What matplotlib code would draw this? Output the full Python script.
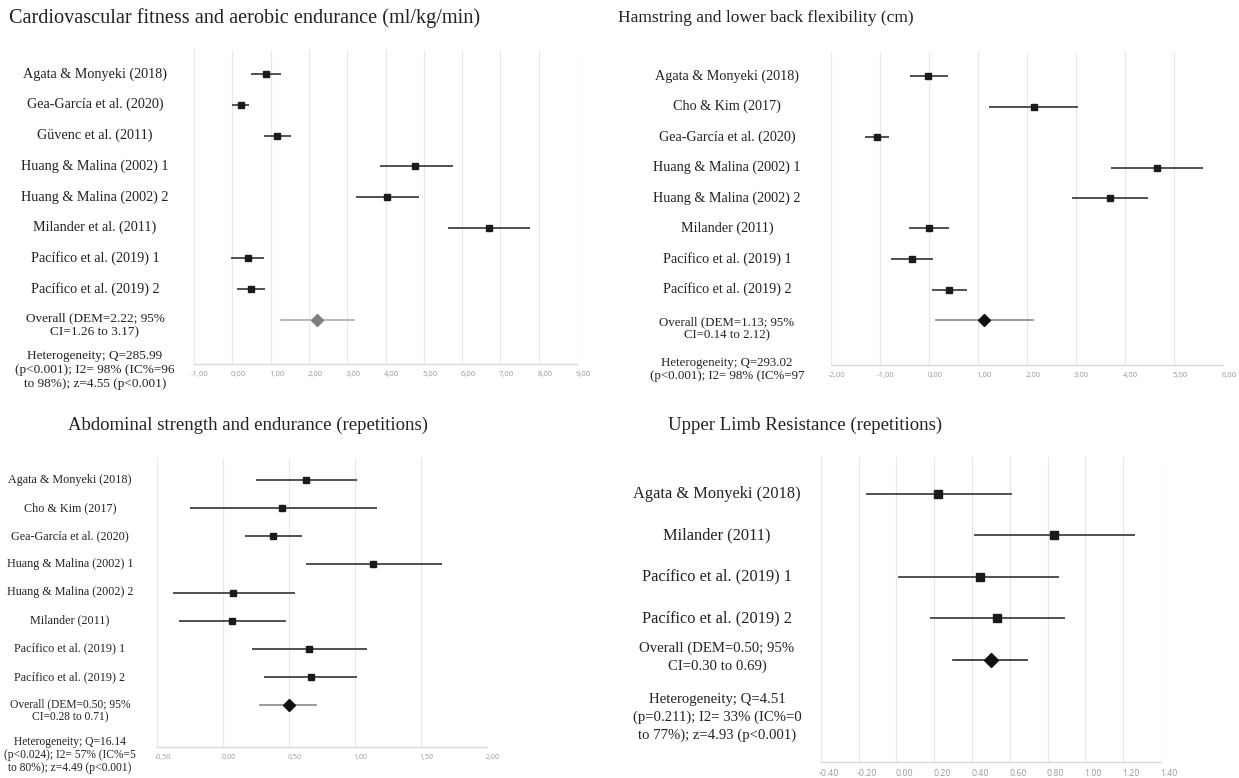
import matplotlib
matplotlib.use("Agg")
import matplotlib.pyplot as plt
from matplotlib.transforms import blended_transform_factory, ScaledTranslation

W, H = 1239, 778
fig = plt.figure(figsize=(W / 100, H / 100), dpi=100)

SERIF = ["Liberation Serif", "DejaVu Serif"]
TICKFONT = ["Open Sans", "DejaVu Sans"]

# ---------------- data ----------------
cardio_title = "Cardiovascular fitness and aerobic endurance (ml/kg/min)"
cardio_studies = ["Agata & Monyeki (2018)", "Gea-García et al. (2020)", "Güvenc et al. (2011)",
                  "Huang & Malina (2002) 1", "Huang & Malina (2002) 2", "Milander et al. (2011)",
                  "Pacífico et al. (2019) 1", "Pacífico et al. (2019) 2"]
cardio_est = [0.87, 0.22, 1.17, 4.78, 4.03, 6.69, 0.40, 0.48]
cardio_lo = [0.50, 0.00, 0.83, 3.85, 3.22, 5.63, -0.04, 0.13]
cardio_hi = [1.26, 0.44, 1.53, 5.76, 4.87, 7.77, 0.83, 0.86]
cardio_overall = [2.22, 1.26, 3.17]
cardio_overall_label = "Overall (DEM=2.22; 95%\nCI=1.26 to 3.17)"
cardio_het = "Heterogeneity; Q=285.99\n(p<0.001); I2= 98% (IC%=96\nto 98%); z=4.55 (p<0.001)"
cardio_ticks = [-1, 0, 1, 2, 3, 4, 5, 6, 7, 8, 9]
cardio_ticklabels = ["-1,00", "0,00", "1,00", "2,00", "3,00", "4,00", "5,00", "6,00", "7,00", "8,00", "9,00"]

flex_title = "Hamstring and lower back flexibility (cm)"
flex_studies = ["Agata & Monyeki (2018)", "Cho & Kim (2017)", "Gea-García et al. (2020)",
                "Huang & Malina (2002) 1", "Huang & Malina (2002) 2", "Milander (2011)",
                "Pacífico et al. (2019) 1", "Pacífico et al. (2019) 2"]
flex_est = [-0.01, 2.15, -1.05, 4.66, 3.69, 0.00, -0.35, 0.41]
flex_lo = [-0.39, 1.24, -1.29, 3.72, 2.92, -0.41, -0.77, 0.06]
flex_hi = [0.40, 3.05, -0.82, 5.59, 4.48, 0.42, 0.09, 0.79]
flex_overall = [1.13, 0.14, 2.12]
flex_overall_label = "Overall (DEM=1.13; 95%\nCI=0.14 to 2.12)"
flex_het = "Heterogeneity; Q=293.02\n(p<0.001); I2= 98% (IC%=97"
flex_ticks = [-2, -1, 0, 1, 2, 3, 4, 5, 6]
flex_ticklabels = ["-2,00", "-1,00", "0,00", "1,00", "2,00", "3,00", "4,00", "5,00", "6,00"]

abd_title = "Abdominal strength and endurance (repetitions)"
abd_studies = ["Agata & Monyeki (2018)", "Cho & Kim (2017)", "Gea-García et al. (2020)",
               "Huang & Malina (2002) 1", "Huang & Malina (2002) 2", "Milander (2011)",
               "Pacífico et al. (2019) 1", "Pacífico et al. (2019) 2"]
abd_est = [0.63, 0.45, 0.38, 1.14, 0.08, 0.07, 0.65, 0.67]
abd_lo = [0.25, -0.25, 0.17, 0.63, -0.375, -0.33, 0.22, 0.31]
abd_hi = [1.02, 1.17, 0.60, 1.66, 0.55, 0.48, 1.09, 1.02]
abd_overall = [0.50, 0.28, 0.71]
abd_overall_label = "Overall (DEM=0.50; 95%\nCI=0.28 to 0.71)"
abd_het = "Heterogeneity; Q=16.14\n(p<0.024); I2= 57% (IC%=5\nto 80%); z=4.49 (p<0.001)"
abd_ticks = [-0.5, 0.0, 0.5, 1.0, 1.5, 2.0]
abd_ticklabels = ["-0,50", "0,00", "0,50", "1,00", "1,50", "2,00"]

ul_title = "Upper Limb Resistance (repetitions)"
ul_studies = ["Agata & Monyeki (2018)", "Milander (2011)", "Pacífico et al. (2019) 1",
              "Pacífico et al. (2019) 2"]
ul_est = [0.22, 0.835, 0.44, 0.53]
ul_lo = [-0.16, 0.41, 0.01, 0.18]
ul_hi = [0.61, 1.26, 0.86, 0.89]
ul_overall = [0.50, 0.30, 0.69]
ul_overall_label = "Overall (DEM=0.50; 95%\nCI=0.30 to 0.69)"
ul_het = "Heterogeneity; Q=4.51\n(p=0.211); I2= 33% (IC%=0\nto 77%); z=4.93 (p<0.001)"
ul_ticks = [-0.4, -0.2, 0.0, 0.2, 0.4, 0.6, 0.8, 1.0, 1.2, 1.4]
ul_ticklabels = ["-0.40", "-0.20", "0.00", "0.20", "0.40", "0.60", "0.80", "1.00", "1.20", "1.40"]


def px_axes(left, top, right, bottom):
    return fig.add_axes([left / W, 1 - bottom / H, (right - left) / W, (bottom - top) / H])


def panel(box, row0, rowlast, studies, est, lo, hi, overall, overall_label, het, ticks, ticklabels,
          label_x, label_fs, small_fs, overall_y, het_y, lsp, sq_ms, dia_ms, dia_color, dia_line,
          tick_fs, tick_dx):
    left, top, right, bottom = box
    ax = px_axes(left, top, right, bottom)
    n = len(studies)
    spacing = (rowlast - row0) / n
    ymin = -(row0 - top) / spacing
    ymax = (bottom - row0) / spacing
    ax.set_ylim(ymax, ymin)
    ax.set_xlim(ticks[0], ticks[-1])
    ax.set_xticks(ticks)
    ax.set_xticklabels(ticklabels, fontsize=tick_fs, color="#9a9a9a", family=TICKFONT)
    ax.tick_params(axis="x", length=0, pad=5)
    ax.set_yticks([])
    for s in ["top", "left", "right"]:
        ax.spines[s].set_visible(False)
    ax.spines["bottom"].set_color("#d9d9d9")
    ax.spines["bottom"].set_linewidth(1.0)
    for t in ticks:
        ax.axvline(t, color="#e9e9e9", lw=0.9, zorder=0)
    for lab in ax.get_xticklabels():
        lab.set_transform(lab.get_transform() + ScaledTranslation(tick_dx / 100, 0, fig.dpi_scale_trans))
    rows = list(range(n))
    for r, e, l, h in zip(rows, est, lo, hi):
        ax.plot([l, h], [r, r], color="#3c3c3c", lw=1.25, solid_capstyle="butt", zorder=2)
    ax.plot(est, rows, linestyle="none", marker="s", markersize=sq_ms, color="#1a1a1a", zorder=3)
    ax.plot([overall[1], overall[2]], [n, n], color=dia_line, lw=1.25, zorder=2)
    ax.plot([overall[0]], [n], linestyle="none", marker="D", markersize=dia_ms, color=dia_color, zorder=3)

    tr = blended_transform_factory(fig.transFigure, ax.transData)
    for r, s in zip(rows, studies):
        ax.text(label_x / W, r, s, transform=tr, ha="center", va="center", fontsize=label_fs,
                family=SERIF, color="#222222")
    ax.text(label_x / W, overall_y, overall_label, transform=tr, ha="center", va="center",
            fontsize=small_fs, family=SERIF, color="#222222", linespacing=lsp)
    ax.text(label_x / W, het_y, het, transform=tr, ha="center", va="center",
            fontsize=small_fs, family=SERIF, color="#222222", linespacing=lsp)
    return ax


# Panel 1
panel((194, 50, 577, 364), 74, 320, cardio_studies, cardio_est, cardio_lo, cardio_hi, cardio_overall,
      cardio_overall_label, cardio_het, cardio_ticks, cardio_ticklabels,
      label_x=95, label_fs=10.2, small_fs=9.5, overall_y=8.17, het_y=9.63, lsp=1.25,
      sq_ms=4.8, dia_ms=6.2, dia_color="#7f7f7f", dia_line="#b0b0b0", tick_fs=5.5, tick_dx=6)
fig.text(9 / W, 1 - 18 / H, cardio_title, ha="left", va="center", fontsize=14.6, family=SERIF, color="#222222")

# Panel 2
panel((830.7, 52, 1222.7, 365), 76, 320, flex_studies, flex_est, flex_lo, flex_hi, flex_overall,
      flex_overall_label, flex_het, flex_ticks, flex_ticklabels,
      label_x=727, label_fs=10.2, small_fs=9.3, overall_y=8.30, het_y=9.62, lsp=1.1,
      sq_ms=4.4, dia_ms=6.6, dia_color="#111111", dia_line="#8c8c8c", tick_fs=5.5, tick_dx=6)
fig.text(618 / W, 1 - 18 / H, flex_title, ha="left", va="center", fontsize=12.6, family=SERIF, color="#222222")

# Panel 3
panel((156.7, 458, 486.7, 747), 480, 705, abd_studies, abd_est, abd_lo, abd_hi, abd_overall,
      abd_overall_label, abd_het, abd_ticks, abd_ticklabels,
      label_x=70, label_fs=8.7, small_fs=8.3, overall_y=8.22, het_y=9.79, lsp=1.1,
      sq_ms=4.0, dia_ms=6.0, dia_color="#111111", dia_line="#8c8c8c", tick_fs=5.0, tick_dx=6)
fig.text(248 / W, 1 - 425 / H, abd_title, ha="center", va="center", fontsize=13.5, family=SERIF, color="#222222")

# Panel 4
panel((820.7, 456.7, 1161, 761.7), 493.7, 660, ul_studies, ul_est, ul_lo, ul_hi, ul_overall,
      ul_overall_label, ul_het, ul_ticks, ul_ticklabels,
      label_x=717, label_fs=11.8, small_fs=10.6, overall_y=3.93, het_y=5.39, lsp=1.45,
      sq_ms=5.8, dia_ms=7.4, dia_color="#111111", dia_line="#333333", tick_fs=6.3, tick_dx=8)
fig.text(942 / W, 1 - 425 / H, ul_title, ha="right", va="center", fontsize=13.5, family=SERIF, color="#222222")

fig.savefig("out.png", dpi=100, facecolor="white")
